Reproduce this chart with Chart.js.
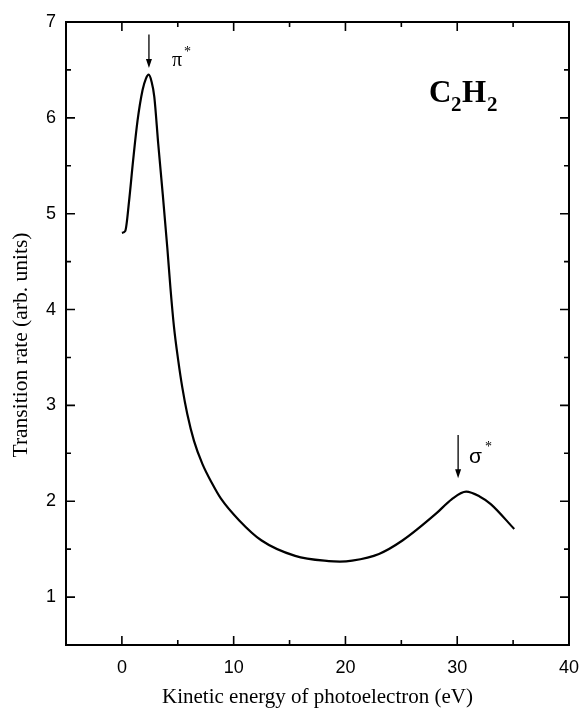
<!DOCTYPE html>
<html>
<head>
<meta charset="utf-8">
<script src="https://cdn.jsdelivr.net/npm/chart.js@4.4.1/dist/chart.umd.min.js"></script>
<style>
  html, body { margin: 0; padding: 0; background: #fff; }
  #wrap { width: 582px; height: 710px; }
</style>
</head>
<body>
<div id="wrap"><canvas id="c2h2-chart" width="582" height="710"></canvas></div>
<script>
// --- DATOS ---
const energy = [0.0, 0.3, 0.65, 1.0, 1.4, 1.85, 2.15, 2.4, 2.65, 2.9, 3.25, 3.65, 4.06, 4.34, 4.66, 5.04,
    5.4, 5.85, 6.45, 7.2, 8.1, 8.85, 10.5, 12.5, 15.5, 18.5, 19.5, 20.6, 23.0, 25.1, 28.1, 29.5, 30.8, 32.0, 33.0, 35.1];
const rate = [4.80, 4.82, 5.14, 5.55, 5.97, 6.29, 6.41, 6.45, 6.38, 6.22, 5.73, 5.21, 4.65, 4.23, 3.82, 3.47,
    3.19, 2.91, 2.63, 2.39, 2.18, 2.03, 1.80, 1.59, 1.43, 1.375, 1.37, 1.38, 1.45, 1.59, 1.87, 2.02, 2.10, 2.05, 1.97, 1.71];

const xTickValues = [0, 10, 20, 30, 40];
const xMinorValues = [-5, 5, 15, 25, 35];
const yTickValues = [1, 2, 3, 4, 5, 6, 7];
const yMinorValues = [0.5, 1.5, 2.5, 3.5, 4.5, 5.5, 6.5];

const xTitle = 'Kinetic energy of photoelectron (eV)';
const yTitle = 'Transition rate (arb. units)';

// flechas: [x, yInicio, yFin]
const arrowPi = [2.42, 6.87, 6.52];
const arrowSigma = [30.08, 2.69, 2.24];

// --- PLUGIN: marco, ticks hacia dentro, anotaciones ---
const framePlugin = {
    id: 'frame',
    afterDraw(chart) {
        const ctx = chart.ctx;
        const a = chart.chartArea;
        const xs = chart.scales.x, ys = chart.scales.y;
        ctx.save();
        ctx.strokeStyle = '#000';
        ctx.lineWidth = 2;
        ctx.strokeRect(a.left, a.top, a.right - a.left, a.bottom - a.top);

        ctx.lineWidth = 1.6;
        ctx.beginPath();
        const xt = (vals, len) => vals.forEach(v => {
            const px = xs.getPixelForValue(v);
            ctx.moveTo(px, a.bottom); ctx.lineTo(px, a.bottom - len);
            ctx.moveTo(px, a.top); ctx.lineTo(px, a.top + len);
        });
        const yt = (vals, len) => vals.forEach(v => {
            const py = ys.getPixelForValue(v);
            ctx.moveTo(a.left, py); ctx.lineTo(a.left + len, py);
            ctx.moveTo(a.right, py); ctx.lineTo(a.right - len, py);
        });
        xt(xTickValues, 9); xt(xMinorValues, 5);
        yt(yTickValues, 9); yt(yMinorValues, 5);
        ctx.stroke();

        // flechas
        const arrow = (ar) => {
            const px = xs.getPixelForValue(ar[0]);
            const y0 = ys.getPixelForValue(ar[1]);
            const y1 = ys.getPixelForValue(ar[2]);
            ctx.lineWidth = 1.3;
            ctx.beginPath();
            ctx.moveTo(px, y0); ctx.lineTo(px, y1 - 6);
            ctx.stroke();
            ctx.beginPath();
            ctx.moveTo(px - 3, y1 - 9); ctx.lineTo(px + 3, y1 - 9); ctx.lineTo(px, y1);
            ctx.closePath();
            ctx.fill();
        };
        ctx.fillStyle = '#000';
        arrow(arrowPi);
        arrow(arrowSigma);

        // etiquetas
        ctx.textBaseline = 'alphabetic';
        ctx.textAlign = 'left';
        ctx.font = '20px "Liberation Serif"';
        ctx.fillText('π', 172, 66);
        ctx.font = '14px "Liberation Serif"';
        ctx.fillText('*', 184, 56);
        ctx.font = '21px "Liberation Sans"';
        ctx.fillText('σ', 469, 463);
        ctx.font = '14px "Liberation Serif"';
        ctx.fillText('*', 485, 451);

        ctx.font = 'bold 31px "Liberation Serif"';
        ctx.fillText('C', 429, 102);
        ctx.font = 'bold 21px "Liberation Serif"';
        ctx.fillText('2', 451, 111);
        ctx.font = 'bold 31px "Liberation Serif"';
        ctx.fillText('H', 462, 102);
        ctx.font = 'bold 21px "Liberation Serif"';
        ctx.fillText('2', 487, 111);

        // titulo eje Y (centrado como en el original, algo por debajo del centro)
        ctx.translate(21, 345);
        ctx.rotate(-Math.PI / 2);
        ctx.textAlign = 'center';
        ctx.textBaseline = 'middle';
        ctx.font = '21.5px "Liberation Serif"';
        ctx.fillText(yTitle, 0, 0);
        ctx.restore();
    }
};

// --- GRAFICO ---
const ctx = document.getElementById('c2h2-chart').getContext('2d');
new Chart(ctx, {
    type: 'line',
    data: {
        datasets: [{
            data: energy.map((e, i) => ({ x: e, y: rate[i] })),
            borderColor: '#000',
            borderWidth: 2.2,
            pointRadius: 0,
            fill: false,
            cubicInterpolationMode: 'monotone'
        }]
    },
    options: {
        responsive: false,
        animation: false,
        layout: { padding: { top: 22, right: 13, left: 0, bottom: 0 } },
        plugins: { legend: { display: false }, tooltip: { enabled: false } },
        scales: {
            x: {
                type: 'linear',
                min: -5, max: 40,
                afterBuildTicks: s => { s.ticks = xTickValues.map(v => ({ value: v })); },
                afterFit: s => { s.height = 65; s.paddingLeft = 0; s.paddingRight = 0; },
                grid: { display: false, drawTicks: false },
                border: { display: false },
                ticks: {
                    color: '#000', padding: 12, maxRotation: 0,
                    font: { family: '"Liberation Sans"', size: 18 }
                },
                title: {
                    display: true,
                    text: xTitle,
                    color: '#000',
                    font: { family: '"Liberation Serif"', size: 21 },
                    padding: { top: 0, bottom: 0 }
                }
            },
            y: {
                type: 'linear',
                min: 0.5, max: 7,
                afterBuildTicks: s => { s.ticks = yTickValues.map(v => ({ value: v })); },
                afterFit: s => { s.width = 66; s.paddingTop = 0; s.paddingBottom = 0; },
                grid: { display: false, drawTicks: false },
                border: { display: false },
                ticks: {
                    color: '#000', padding: 10,
                    font: { family: '"Liberation Sans"', size: 18 }
                },
                title: { display: false }
            }
        }
    },
    plugins: [framePlugin]
});
</script>
</body>
</html>
